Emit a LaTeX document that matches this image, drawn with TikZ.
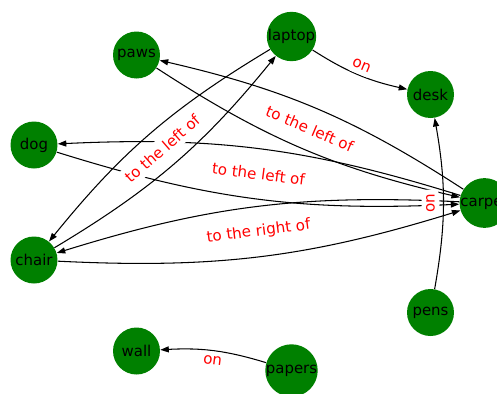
\documentclass[tikz,border=0pt]{standalone}
\usepackage{fontspec}
\setmainfont{DejaVu Sans}
\usetikzlibrary{arrows.meta}
\definecolor{nodegreen}{RGB}{0,128,0}
\tikzset{%
    obj/.style={
      circle,
      fill=nodegreen,
      minimum size=0.94cm,
      inner sep=0pt,
      font=\fontsize{8.5}{10}\selectfont
    },
    rel/.style={
      -{Triangle[length=1.7mm, width=1.2mm]},
      line width=0.6pt,
      bend right=10
    },
    lbl/.style={
      fill=white,
      text=red,
      rounded corners=3pt,
      inner sep=2.6pt,
      font=\fontsize{8.6}{10}\selectfont
    }
  }
\begin{document}
\begin{tikzpicture}[x=0.02cm, y=-0.02cm]
      \useasboundingbox (0,0) rectangle (497,393);

      \node [obj] (paws) at (136.5,55) {paws};
      \node [obj] (laptop) at (291.5,36.5) {laptop};
      \node [obj] (desk) at (430.5,94.5) {desk};
      \node [obj] (dog) at (34,145) {dog};
      \node [obj] (carpet) at (484.5,203) {carpet};
      \node [obj] (chair) at (34,260) {chair};
      \node [obj] (pens) at (430.5,312.5) {pens};
      \node [obj] (wall) at (136.5,351) {wall};
      \node [obj] (papers) at (291.5,370.5) {papers};

      \draw [rel] (laptop) to (desk);
      \draw [rel] (papers) to (wall);
      \draw [rel] (pens) to (desk);

      \draw [rel] (carpet) to (paws);
      \draw [rel] (paws) to (carpet);
      \draw [rel] (carpet) to (dog);
      \draw [rel] (dog) to (carpet);
      \draw [rel] (laptop) to (chair);
      \draw [rel] (chair) to (laptop);
      \draw [rel] (carpet) to (chair);
      \draw [rel] (chair) to (carpet);

      % labels sit on the straight chords
      \path (laptop) -- node [lbl, sloped] {on} (desk);
      \path (papers) -- node [lbl, sloped] {on} (wall);
      \path (pens) -- node [lbl, rotate=90] {on} (desk);
      \path (paws) -- node [lbl, sloped] {to the left of} (carpet);
      \path (dog) -- node [lbl, sloped] {to the left of} (carpet);
      \path (chair) -- node [lbl, sloped] {to the left of} (laptop);
      \path (chair) -- node [lbl, sloped] {to the right of} (carpet);
    \end{tikzpicture}
\end{document}
